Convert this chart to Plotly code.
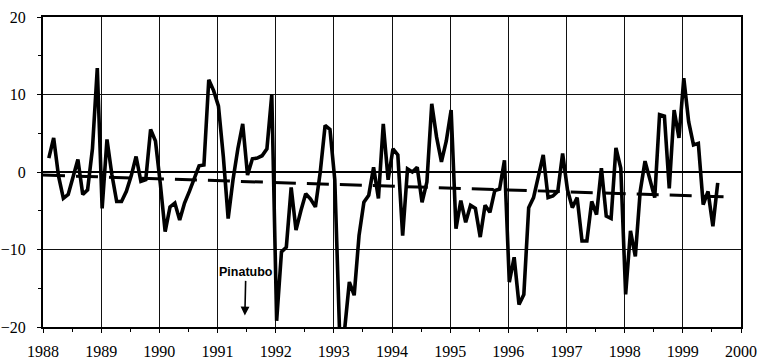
import numpy as np
import plotly.graph_objects as go

# Monthly anomaly series, starting early 1988
start_year = 1988.1
values = [
    1.8, 4.4, -0.5, -3.4, -2.9, -0.5, 1.6, -2.9, -2.3, 3.0, 13.4, -4.7,
    4.2, -0.3, -3.8, -3.8, -2.5, -0.5, 2.0, -1.2, -1.0, 5.5, 4.0, -1.5,
    -7.7, -4.5, -4.0, -6.2, -4.0, -2.5, -1.0, 0.8, 0.9, 11.9, 10.5, 8.5,
    2.0, -6.0, -1.0, 3.0, 6.2, -0.4, 1.7, 1.8, 2.1, 3.0, 10.0, -19.2,
    -10.3, -9.7, -2.0, -7.5, -5.0, -2.8, -3.5, -4.5, 0.0, 6.0, 5.5, -1.0,
    -21.0, -20.5, -14.2, -15.9, -8.2, -3.9, -3.0, 0.6, -3.4, 6.2, -1.0, 3.0,
    2.2, -8.2, 0.4, 0.0, 0.6, -3.9, -1.3, 8.8, 4.5, 1.3, 4.0, 8.0,
    -7.3, -3.7, -6.5, -4.3, -4.7, -8.4, -4.3, -5.2, -2.4, -2.2, 1.5, -14.2,
    -11.0, -17.1, -15.8, -4.6, -3.3, -0.5, 2.2, -3.3, -3.1, -2.5, 2.4, -2.3,
    -4.6, -3.3, -8.9, -8.9, -3.8, -5.5, 0.5, -5.7, -6.0, 3.1, 0.5, -15.8,
    -7.6, -10.9, -2.5, 1.4, -1.0, -3.3, 7.4, 7.2, -2.1, 8.0, 4.4, 12.1,
    6.5, 3.5, 3.7, -4.2, -2.5, -7.0, -1.4,
]
# Linear trend endpoints
trend_x = [1988.0, 1999.7]
trend_y = [-0.4, -3.2]

x_ticks = list(range(1988, 2001))
y_ticks = [-20, -10, 0, 10, 20]

t = start_year + np.arange(len(values)) / 12.0

SERIF = "Liberation Serif, Times New Roman, Times, serif"

fig = go.Figure()
fig.add_trace(go.Scatter(x=trend_x, y=trend_y, mode="lines",
                         line=dict(color="black", width=3, dash="22px,11px"),
                         showlegend=False, hoverinfo="skip"))
fig.add_trace(go.Scatter(x=t, y=values, mode="lines",
                         line=dict(color="black", width=3.6),
                         showlegend=False))

fig.add_annotation(x=1991.47, y=-18.5, text="<b>Pinatubo</b>",
                   showarrow=True, ax=1, ay=-43, arrowhead=2, arrowsize=1.1,
                   arrowwidth=1.6, arrowcolor="black", standoff=0,
                   font=dict(family="Liberation Sans, Arial, sans-serif", size=12.5, color="black"))

axis_common = dict(showline=True, linecolor="black", linewidth=2, mirror=True,
                   showgrid=True, gridcolor="#111", gridwidth=1,
                   ticks="outside", ticklen=4, tickcolor="black",
                   automargin=False,
                   tickfont=dict(family=SERIF, size=16, color="black"))

fig.update_xaxes(range=[1988, 2000], tickvals=x_ticks, zeroline=False,
                 ticklabelstandoff=5,
                 minor=dict(dtick=0.5, tick0=1988, ticks="outside", ticklen=3,
                            tickcolor="black", showgrid=False),
                 **axis_common)
fig.update_yaxes(range=[-20, 20], tickvals=y_ticks, zeroline=True,
                 zerolinecolor="black", zerolinewidth=1.8,
                 ticklabelstandoff=8,
                 minor=dict(dtick=5, tick0=0, ticks="outside", ticklen=3,
                            tickcolor="black", showgrid=False),
                 **axis_common)

fig.update_layout(width=760, height=359, plot_bgcolor="white", paper_bgcolor="white",
                  font=dict(family=SERIF),
                  margin=dict(l=43, r=19, t=17, b=32))

fig.write_html("out.html", config={"displayModeBar": False},
               post_script="document.body.style.margin='0';document.body.style.overflow='hidden';")
